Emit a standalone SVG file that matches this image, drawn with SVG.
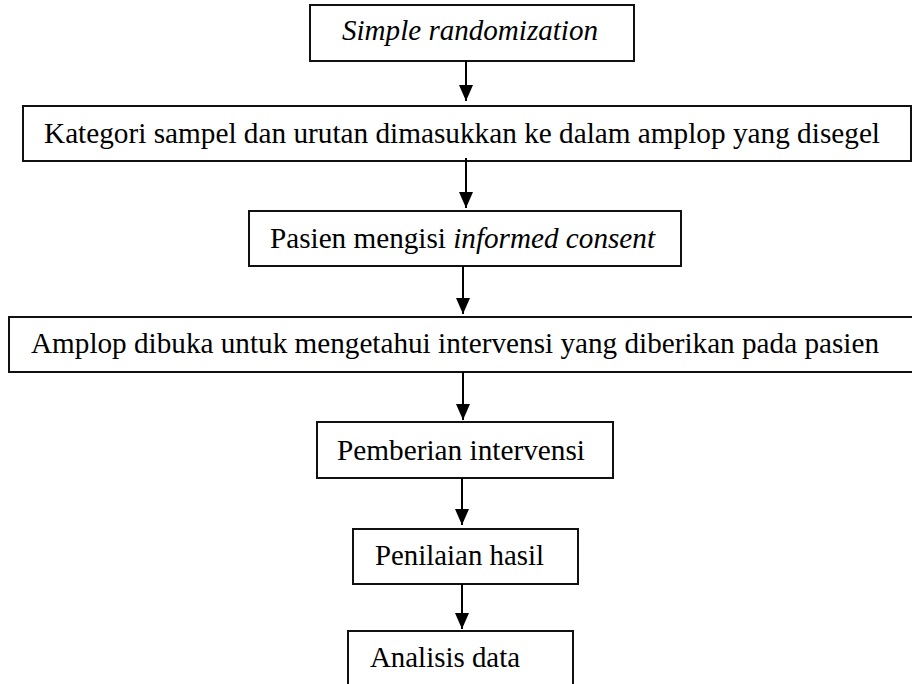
<svg xmlns="http://www.w3.org/2000/svg" width="912" height="684" viewBox="0 0 912 684">
<style>
.box{fill:#fff;stroke:#111;stroke-width:2}
.t{font-family:"Liberation Serif","Times New Roman",serif;font-size:30px;fill:#000}
.i{font-style:italic}
.c{stroke:#000;stroke-width:2;fill:none}
</style>
<defs>
<marker id="ah" viewBox="0 0 16 14" refX="16" refY="7" markerWidth="16" markerHeight="14" markerUnits="userSpaceOnUse" orient="auto">
<path d="M0,0 L16,7 L0,14 Z" fill="#000"/>
</marker>
</defs>
<rect width="912" height="684" fill="#fff"/>
<g id="n1"><rect class="box" x="310" y="5" width="324" height="56"/><text class="t i" x="342" y="40" textLength="256" lengthAdjust="spacingAndGlyphs">Simple randomization</text></g>
<g id="n2"><rect class="box" x="23" y="106" width="888" height="55"/><text class="t" x="44" y="143" textLength="836" lengthAdjust="spacingAndGlyphs">Kategori sampel dan urutan dimasukkan ke dalam amplop yang disegel</text></g>
<g id="n3"><rect class="box" x="249" y="211" width="432" height="55"/><text class="t" x="270" y="248" textLength="385" lengthAdjust="spacingAndGlyphs">Pasien mengisi <tspan class="i">informed consent</tspan></text></g>
<g id="n4"><rect class="box" x="9" y="317" width="910" height="55"/><text class="t" x="31" y="353" textLength="848" lengthAdjust="spacingAndGlyphs">Amplop dibuka untuk mengetahui intervensi yang diberikan pada pasien</text></g>
<g id="n5"><rect class="box" x="317" y="422" width="296" height="56"/><text class="t" x="337" y="460" textLength="248" lengthAdjust="spacingAndGlyphs">Pemberian intervensi</text></g>
<g id="n6"><rect class="box" x="353" y="529" width="225" height="55"/><text class="t" x="375" y="565" textLength="169" lengthAdjust="spacingAndGlyphs">Penilaian hasil</text></g>
<g id="n7"><rect class="box" x="348" y="631" width="225" height="80"/><text class="t" x="370" y="667" textLength="150" lengthAdjust="spacingAndGlyphs">Analisis data</text></g>
<g id="connectors">
<line class="c" x1="466" y1="61" x2="466" y2="101" marker-end="url(#ah)"/>
<line class="c" x1="466" y1="158" x2="466" y2="208" marker-end="url(#ah)"/>
<line class="c" x1="463" y1="266" x2="463" y2="314" marker-end="url(#ah)"/>
<line class="c" x1="463" y1="372" x2="463" y2="420" marker-end="url(#ah)"/>
<line class="c" x1="462" y1="478" x2="462" y2="525" marker-end="url(#ah)"/>
<line class="c" x1="462" y1="584" x2="462" y2="629" marker-end="url(#ah)"/>
</g>
</svg>
